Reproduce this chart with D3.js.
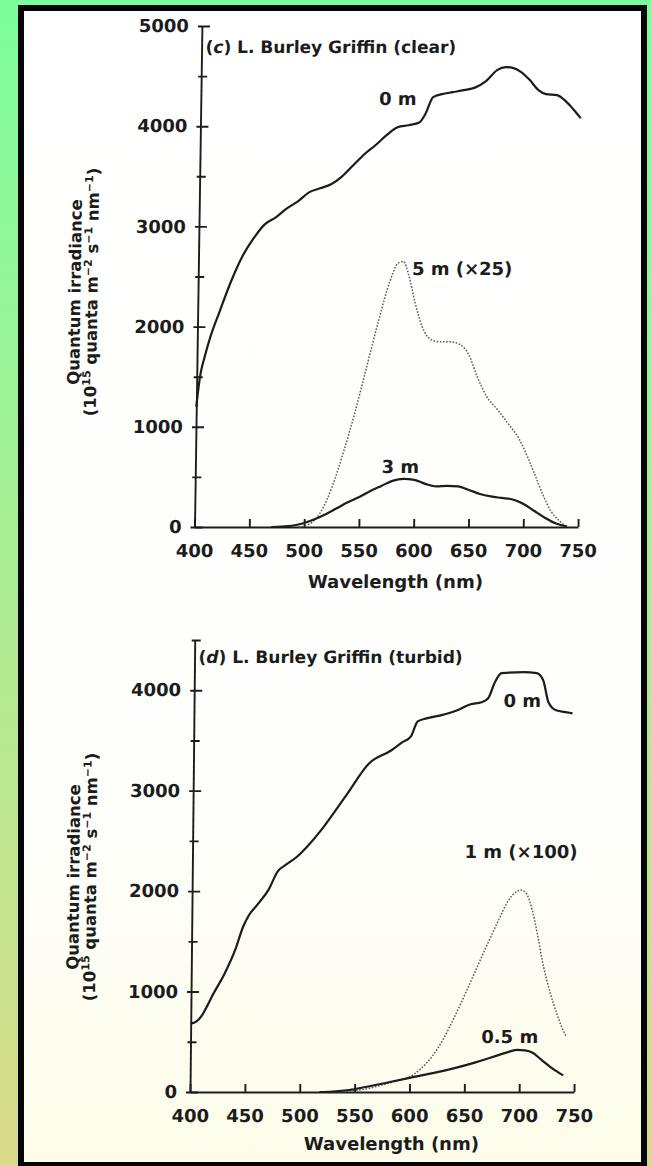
<!DOCTYPE html>
<html><head><meta charset="utf-8">
<script src="https://cdn.jsdelivr.net/npm/d3@7"></script>
<style>
body{margin:0;background:#fff}
svg{display:block}
text{font-family:"DejaVu Sans",sans-serif;font-weight:bold;fill:#1c1c1c}
</style>
</head><body>
<svg id="chart" width="651" height="1166"></svg>
<script>
// ---------- data ----------
const xTickValues = [400,450,500,550,600,650,700,750];
const cYTickValues = [0,1000,2000,3000,4000,5000];
const cYMinorValues = [500,1500,2500,3500,4500];
const dYTickValues = [0,1000,2000,3000,4000];
const dYMinorValues = [500,1500,2500,3500,4500];

// (c) clear
const cWl0 = [400,403,407,412,420,430,440,450,460,470,480,490,500,510,520,530,540,550,560,570,580,590,600,605,612,620,630,640,650,660,670,678,685,692,700,708,715,725,733,740,747];
const c0m  = [1200,1500,1700,1900,2150,2450,2700,2880,3020,3090,3180,3250,3340,3380,3420,3500,3610,3720,3810,3910,3990,4010,4040,4120,4290,4320,4340,4360,4385,4450,4560,4590,4580,4540,4460,4360,4320,4310,4250,4170,4080];
const cWl5 = [495,505,515,525,535,545,555,565,575,582,587,592,598,605,612,620,630,640,648,656,665,675,685,695,703,710,718,725,733,740];
const c5m  = [0,30,150,400,750,1150,1600,2050,2450,2630,2650,2520,2250,2000,1880,1850,1850,1820,1720,1500,1300,1170,1030,880,700,520,310,160,60,0];
const cWl3 = [470,480,490,500,510,520,530,540,550,560,570,580,590,600,610,620,630,640,650,660,670,680,690,700,710,720,730,740];
const c3m  = [0,5,15,40,80,130,190,250,300,360,410,460,480,470,430,405,410,405,370,330,305,290,275,230,160,90,35,5];

// (d) turbid
const dWl0 = [400,405,410,415,420,430,440,447,452,460,470,478,485,495,505,520,540,560,580,590,598,604,612,625,640,652,662,668,674,680,700,712,718,723,730,740,745];
const d0m  = [680,700,760,860,970,1170,1420,1650,1760,1870,2020,2200,2260,2340,2450,2650,2960,3270,3400,3480,3540,3690,3720,3750,3800,3860,3880,3920,4080,4170,4180,4170,4100,3880,3800,3780,3770];
const dWl1 = [528,540,550,560,570,580,590,600,610,620,630,640,650,660,670,680,688,695,700,705,710,715,720,727,733,738,742];
const d1m  = [0,5,15,30,55,85,115,150,230,350,520,740,980,1230,1480,1720,1900,1990,2010,1970,1820,1580,1300,1000,800,650,560];
const dWl05 = [518,530,545,560,580,600,620,640,660,680,690,698,705,712,720,730,740];
const d05m  = [0,5,20,50,95,140,185,235,295,365,400,420,415,390,320,235,165];

const cLabels = [
  {text:"0 m", wl:597, v:4210, anchor:"end"},
  {text:"5 m (×25)", wl:595, v:2510, anchor:"start"},
  {text:"3 m", wl:570, v:540, anchor:"start"}
];
const dLabels = [
  {text:"0 m", wl:682, v:3830, anchor:"start"},
  {text:"1 m (×100)", wl:648, v:2330, anchor:"start"},
  {text:"0.5 m", wl:665, v:490, anchor:"start"}
];

// ---------- frame ----------
const svg = d3.select("#chart");
const defs = svg.append("defs");
const bg = defs.append("linearGradient").attr("id","bg").attr("x1",0).attr("y1",0).attr("x2",0).attr("y2",1);
bg.append("stop").attr("offset","0%").attr("stop-color","#7dfd9d");
bg.append("stop").attr("offset","100%").attr("stop-color","#dadb8a");
const pg = defs.append("linearGradient").attr("id","pg").attr("x1",0).attr("y1",0).attr("x2",0).attr("y2",1);
pg.append("stop").attr("offset","0%").attr("stop-color","#ffffff");
pg.append("stop").attr("offset","70%").attr("stop-color","#fefefb");
pg.append("stop").attr("offset","100%").attr("stop-color","#fcfce9");

svg.append("rect").attr("width",651).attr("height",1166).attr("fill","url(#bg)");
svg.append("rect").attr("x",18).attr("y",5).attr("width",629).attr("height",1161).attr("fill","#050505");
svg.append("rect").attr("x",24).attr("y",11).attr("width",617).attr("height",1151).attr("fill","url(#pg)");

// ---------- panel ----------
function panel(cfg){
  const y0 = cfg.y.range()[0];
  const g = svg.append("g")
    .attr("transform",`translate(0,${y0}) skewX(${-cfg.skew}) translate(0,${-y0})`);
  const x = cfg.x, y = cfg.y;

  const xa = g.append("g").attr("transform",`translate(0,${y0})`)
    .call(d3.axisBottom(x).tickValues(xTickValues).tickFormat(d3.format("d"))
      .tickSizeInner(-8).tickSizeOuter(0).tickPadding(17));
  const ya = g.append("g").attr("transform",`translate(${x.range()[0]},0)`)
    .call(d3.axisLeft(y).tickValues(cfg.yTicks).tickFormat(d3.format("d"))
      .tickSizeInner(-8).tickSizeOuter(0).tickPadding(13));
  ya.selectAll(".tick line").attr("x1",-4);
  const ym = g.append("g").attr("transform",`translate(${x.range()[0]},0)`)
    .call(d3.axisLeft(y).tickValues(cfg.yMinor).tickFormat("")
      .tickSizeInner(-6).tickSizeOuter(0));
  ym.select(".domain").remove();
  ym.selectAll(".tick line").attr("x1",-3);

  [xa,ya,ym].forEach(a=>{
    a.selectAll("path.domain").attr("stroke","#1c1c1c").attr("stroke-width",1.9);
    a.selectAll(".tick line").attr("stroke","#1c1c1c").attr("stroke-width",1.9);
    a.selectAll(".tick text").attr("font-size",18).attr("font-family","DejaVu Sans, sans-serif")
      .attr("font-weight","bold").attr("fill","#1c1c1c");
  });

  const line = d3.line().x(d=>x(d[0])).y(d=>y(d[1])).curve(d3.curveMonotoneX);
  cfg.series.forEach(s=>{
    const pts = s.wl.map((w,i)=>[w,s.v[i]]);
    g.append("path").attr("d",line(pts)).attr("fill","none")
      .attr("stroke", s.dotted ? "#5a5a5a" : "#1c1c1c")
      .attr("stroke-width", s.dotted ? 1.5 : 2.2)
      .attr("stroke-dasharray", s.dotted ? "1.6,1.6" : null)
      .attr("stroke-linejoin","round");
  });

  cfg.labels.forEach(l=>{
    g.append("text").attr("x",x(l.wl)).attr("y",y(l.v)).attr("text-anchor",l.anchor)
      .attr("font-size",18).text(l.text);
  });

  const t = g.append("text").attr("x",x.range()[0]+cfg.titleDx).attr("y",cfg.titleY).attr("font-size",17);
  t.append("tspan").text("(");
  t.append("tspan").attr("font-style","italic").text(cfg.letter);
  t.append("tspan").text(") L. Burley Griffin (" + cfg.cond + ")");

  g.append("text").attr("x",(x.range()[0]+x.range()[1])/2+10).attr("y",cfg.xTitleY)
    .attr("text-anchor","middle").attr("font-size",18).text("Wavelength (nm)");

  const cy = cfg.yTitleCy;
  g.append("text").attr("transform",`translate(${cfg.yT1x},${cy}) rotate(-90)`)
    .attr("text-anchor","middle").attr("font-size",16.5).text("Quantum irradiance");
  const t2 = g.append("text").attr("transform",`translate(${cfg.yT2x},${cy}) rotate(-90)`)
    .attr("text-anchor","middle").attr("font-size",16.5);
  const parts = [["(10",0],["15",1],[" quanta m",0],["−2",1],[" s",0],["−1",1],[" nm",0],["−1",1],[")",0]];
  let prevSup = 0;
  parts.forEach(([s,sup])=>{
    const ts = t2.append("tspan").text(s);
    if(sup && !prevSup){ ts.attr("dy",-6).attr("font-size",11); }
    else if(sup){ ts.attr("font-size",11); }
    else if(!sup && prevSup){ ts.attr("dy",6); }
    prevSup = sup;
  });
}

panel({
  x: d3.scaleLinear().domain([400,750]).range([194.5,578]),
  y: d3.scaleLinear().domain([0,5000]).range([527,26]),
  skew: 0.85,
  yTicks: cYTickValues, yMinor: cYMinorValues,
  series: [{wl:cWl0,v:c0m},{wl:cWl5,v:c5m,dotted:true},{wl:cWl3,v:c3m}],
  labels: cLabels,
  letter:"c", cond:"clear", titleDx:4, titleY:53,
  xTitleY: 588, yTitleCy: 292, yT1x: 77, yT2x: 94
});
panel({
  x: d3.scaleLinear().domain([400,750]).range([190,574]),
  y: d3.scaleLinear().domain([0,4500]).range([1092,640]),
  skew: 0.6,
  yTicks: dYTickValues, yMinor: dYMinorValues,
  series: [{wl:dWl0,v:d0m},{wl:dWl1,v:d1m,dotted:true},{wl:dWl05,v:d05m}],
  labels: dLabels,
  letter:"d", cond:"turbid", titleDx:4, titleY:663,
  xTitleY: 1150, yTitleCy: 877, yT1x: 77, yT2x: 94
});
</script>
</body></html>
